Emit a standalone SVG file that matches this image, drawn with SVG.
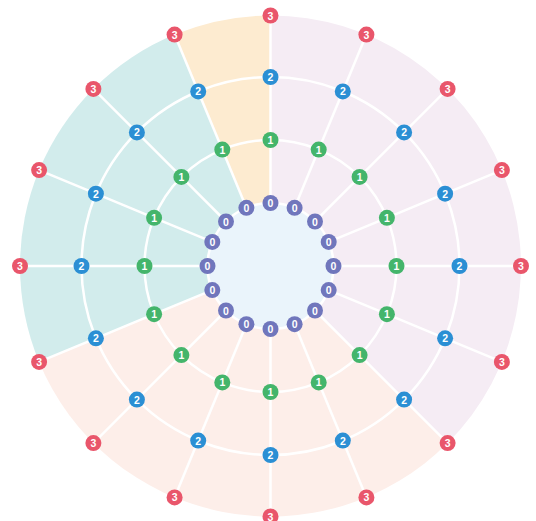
<svg xmlns="http://www.w3.org/2000/svg" width="536" height="521" viewBox="0 0 536 521">
<style>
.grid{fill:none;stroke:#fff;stroke-width:2.5}
.edge{stroke:#fff;stroke-width:2.5}
.n circle{stroke:none}
.n text{font-family:"Liberation Sans",Arial,sans-serif;font-size:10.5px;font-weight:bold;fill:#fff;text-anchor:middle;dominant-baseline:central}
.l0 circle{fill:#7076bc}
.l1 circle{fill:#44b56b}
.l2 circle{fill:#2b8fd4}
.l3 circle{fill:#e9566b}
</style>
<rect width="536" height="521" fill="#fff"/>
<g id="sectors">
<path d="M270.5,266 L270.5,15.5 A250.5,250.5 0 0 1 447.6,443.1 Z" fill="#f5ecf4"/>
<path d="M270.5,266 L447.6,443.1 A250.5,250.5 0 0 1 39.1,361.9 Z" fill="#fdeee9"/>
<path d="M270.5,266 L39.1,361.9 A250.5,250.5 0 0 1 174.6,34.6 Z" fill="#d2ecec"/>
<path d="M270.5,266 L174.6,34.6 A250.5,250.5 0 0 1 270.5,15.5 Z" fill="#fdebd0"/>
</g>
<g id="rings">
<circle class="grid" cx="270.5" cy="266" r="126"/>
<circle class="grid" cx="270.5" cy="266" r="189"/>
</g>
<g id="connectors">
<polyline class="edge" points="270.5,203 270.5,140 270.5,77 270.5,15.5"/>
<polyline class="edge" points="294.6,207.8 318.7,149.6 342.8,91.4 366.4,34.6"/>
<polyline class="edge" points="315.0,221.5 359.6,176.9 404.1,132.4 447.6,88.9"/>
<polyline class="edge" points="328.7,241.9 386.9,217.8 445.1,193.7 501.9,170.1"/>
<polyline class="edge" points="333.5,266 396.5,266 459.5,266 521,266"/>
<polyline class="edge" points="328.7,290.1 386.9,314.2 445.1,338.3 501.9,361.9"/>
<polyline class="edge" points="315.0,310.5 359.6,355.1 404.1,399.6 447.6,443.1"/>
<polyline class="edge" points="294.6,324.2 318.7,382.4 342.8,440.6 366.4,497.4"/>
<polyline class="edge" points="270.5,329 270.5,392 270.5,455 270.5,516.5"/>
<polyline class="edge" points="246.4,324.2 222.3,382.4 198.2,440.6 174.6,497.4"/>
<polyline class="edge" points="226.0,310.5 181.4,355.1 136.9,399.6 93.4,443.1"/>
<polyline class="edge" points="212.3,290.1 154.1,314.2 95.9,338.3 39.1,361.9"/>
<polyline class="edge" points="207.5,266 144.5,266 81.5,266 20,266"/>
<polyline class="edge" points="212.3,241.9 154.1,217.8 95.9,193.7 39.1,170.1"/>
<polyline class="edge" points="226.0,221.5 181.4,176.9 136.9,132.4 93.4,88.9"/>
<polyline class="edge" points="246.4,207.8 222.3,149.6 198.2,91.4 174.6,34.6"/>
</g>
<circle id="core" cx="270.5" cy="266" r="63" fill="#eaf4fb" stroke="#fff" stroke-width="2.5"/>
<g id="nodes">
<g id="n0-0" class="n l0"><circle cx="270.5" cy="203" r="8"/><text x="270.5" y="203">0</text></g>
<g id="n0-1" class="n l0"><circle cx="294.6" cy="207.8" r="8"/><text x="294.6" y="207.8">0</text></g>
<g id="n0-2" class="n l0"><circle cx="315.0" cy="221.5" r="8"/><text x="315.0" y="221.5">0</text></g>
<g id="n0-3" class="n l0"><circle cx="328.7" cy="241.9" r="8"/><text x="328.7" y="241.9">0</text></g>
<g id="n0-4" class="n l0"><circle cx="333.5" cy="266" r="8"/><text x="333.5" y="266">0</text></g>
<g id="n0-5" class="n l0"><circle cx="328.7" cy="290.1" r="8"/><text x="328.7" y="290.1">0</text></g>
<g id="n0-6" class="n l0"><circle cx="315.0" cy="310.5" r="8"/><text x="315.0" y="310.5">0</text></g>
<g id="n0-7" class="n l0"><circle cx="294.6" cy="324.2" r="8"/><text x="294.6" y="324.2">0</text></g>
<g id="n0-8" class="n l0"><circle cx="270.5" cy="329" r="8"/><text x="270.5" y="329">0</text></g>
<g id="n0-9" class="n l0"><circle cx="246.4" cy="324.2" r="8"/><text x="246.4" y="324.2">0</text></g>
<g id="n0-10" class="n l0"><circle cx="226.0" cy="310.5" r="8"/><text x="226.0" y="310.5">0</text></g>
<g id="n0-11" class="n l0"><circle cx="212.3" cy="290.1" r="8"/><text x="212.3" y="290.1">0</text></g>
<g id="n0-12" class="n l0"><circle cx="207.5" cy="266" r="8"/><text x="207.5" y="266">0</text></g>
<g id="n0-13" class="n l0"><circle cx="212.3" cy="241.9" r="8"/><text x="212.3" y="241.9">0</text></g>
<g id="n0-14" class="n l0"><circle cx="226.0" cy="221.5" r="8"/><text x="226.0" y="221.5">0</text></g>
<g id="n0-15" class="n l0"><circle cx="246.4" cy="207.8" r="8"/><text x="246.4" y="207.8">0</text></g>

<g id="n1-0" class="n l1"><circle cx="270.5" cy="140" r="8"/><text x="270.5" y="140">1</text></g>
<g id="n1-1" class="n l1"><circle cx="318.7" cy="149.6" r="8"/><text x="318.7" y="149.6">1</text></g>
<g id="n1-2" class="n l1"><circle cx="359.6" cy="176.9" r="8"/><text x="359.6" y="176.9">1</text></g>
<g id="n1-3" class="n l1"><circle cx="386.9" cy="217.8" r="8"/><text x="386.9" y="217.8">1</text></g>
<g id="n1-4" class="n l1"><circle cx="396.5" cy="266" r="8"/><text x="396.5" y="266">1</text></g>
<g id="n1-5" class="n l1"><circle cx="386.9" cy="314.2" r="8"/><text x="386.9" y="314.2">1</text></g>
<g id="n1-6" class="n l1"><circle cx="359.6" cy="355.1" r="8"/><text x="359.6" y="355.1">1</text></g>
<g id="n1-7" class="n l1"><circle cx="318.7" cy="382.4" r="8"/><text x="318.7" y="382.4">1</text></g>
<g id="n1-8" class="n l1"><circle cx="270.5" cy="392" r="8"/><text x="270.5" y="392">1</text></g>
<g id="n1-9" class="n l1"><circle cx="222.3" cy="382.4" r="8"/><text x="222.3" y="382.4">1</text></g>
<g id="n1-10" class="n l1"><circle cx="181.4" cy="355.1" r="8"/><text x="181.4" y="355.1">1</text></g>
<g id="n1-11" class="n l1"><circle cx="154.1" cy="314.2" r="8"/><text x="154.1" y="314.2">1</text></g>
<g id="n1-12" class="n l1"><circle cx="144.5" cy="266" r="8"/><text x="144.5" y="266">1</text></g>
<g id="n1-13" class="n l1"><circle cx="154.1" cy="217.8" r="8"/><text x="154.1" y="217.8">1</text></g>
<g id="n1-14" class="n l1"><circle cx="181.4" cy="176.9" r="8"/><text x="181.4" y="176.9">1</text></g>
<g id="n1-15" class="n l1"><circle cx="222.3" cy="149.6" r="8"/><text x="222.3" y="149.6">1</text></g>

<g id="n2-0" class="n l2"><circle cx="270.5" cy="77" r="8"/><text x="270.5" y="77">2</text></g>
<g id="n2-1" class="n l2"><circle cx="342.8" cy="91.4" r="8"/><text x="342.8" y="91.4">2</text></g>
<g id="n2-2" class="n l2"><circle cx="404.1" cy="132.4" r="8"/><text x="404.1" y="132.4">2</text></g>
<g id="n2-3" class="n l2"><circle cx="445.1" cy="193.7" r="8"/><text x="445.1" y="193.7">2</text></g>
<g id="n2-4" class="n l2"><circle cx="459.5" cy="266" r="8"/><text x="459.5" y="266">2</text></g>
<g id="n2-5" class="n l2"><circle cx="445.1" cy="338.3" r="8"/><text x="445.1" y="338.3">2</text></g>
<g id="n2-6" class="n l2"><circle cx="404.1" cy="399.6" r="8"/><text x="404.1" y="399.6">2</text></g>
<g id="n2-7" class="n l2"><circle cx="342.8" cy="440.6" r="8"/><text x="342.8" y="440.6">2</text></g>
<g id="n2-8" class="n l2"><circle cx="270.5" cy="455" r="8"/><text x="270.5" y="455">2</text></g>
<g id="n2-9" class="n l2"><circle cx="198.2" cy="440.6" r="8"/><text x="198.2" y="440.6">2</text></g>
<g id="n2-10" class="n l2"><circle cx="136.9" cy="399.6" r="8"/><text x="136.9" y="399.6">2</text></g>
<g id="n2-11" class="n l2"><circle cx="95.9" cy="338.3" r="8"/><text x="95.9" y="338.3">2</text></g>
<g id="n2-12" class="n l2"><circle cx="81.5" cy="266" r="8"/><text x="81.5" y="266">2</text></g>
<g id="n2-13" class="n l2"><circle cx="95.9" cy="193.7" r="8"/><text x="95.9" y="193.7">2</text></g>
<g id="n2-14" class="n l2"><circle cx="136.9" cy="132.4" r="8"/><text x="136.9" y="132.4">2</text></g>
<g id="n2-15" class="n l2"><circle cx="198.2" cy="91.4" r="8"/><text x="198.2" y="91.4">2</text></g>

<g id="n3-0" class="n l3"><circle cx="270.5" cy="15.5" r="8"/><text x="270.5" y="15.5">3</text></g>
<g id="n3-1" class="n l3"><circle cx="366.4" cy="34.6" r="8"/><text x="366.4" y="34.6">3</text></g>
<g id="n3-2" class="n l3"><circle cx="447.6" cy="88.9" r="8"/><text x="447.6" y="88.9">3</text></g>
<g id="n3-3" class="n l3"><circle cx="501.9" cy="170.1" r="8"/><text x="501.9" y="170.1">3</text></g>
<g id="n3-4" class="n l3"><circle cx="521" cy="266" r="8"/><text x="521" y="266">3</text></g>
<g id="n3-5" class="n l3"><circle cx="501.9" cy="361.9" r="8"/><text x="501.9" y="361.9">3</text></g>
<g id="n3-6" class="n l3"><circle cx="447.6" cy="443.1" r="8"/><text x="447.6" y="443.1">3</text></g>
<g id="n3-7" class="n l3"><circle cx="366.4" cy="497.4" r="8"/><text x="366.4" y="497.4">3</text></g>
<g id="n3-8" class="n l3"><circle cx="270.5" cy="516.5" r="8"/><text x="270.5" y="516.5">3</text></g>
<g id="n3-9" class="n l3"><circle cx="174.6" cy="497.4" r="8"/><text x="174.6" y="497.4">3</text></g>
<g id="n3-10" class="n l3"><circle cx="93.4" cy="443.1" r="8"/><text x="93.4" y="443.1">3</text></g>
<g id="n3-11" class="n l3"><circle cx="39.1" cy="361.9" r="8"/><text x="39.1" y="361.9">3</text></g>
<g id="n3-12" class="n l3"><circle cx="20" cy="266" r="8"/><text x="20" y="266">3</text></g>
<g id="n3-13" class="n l3"><circle cx="39.1" cy="170.1" r="8"/><text x="39.1" y="170.1">3</text></g>
<g id="n3-14" class="n l3"><circle cx="93.4" cy="88.9" r="8"/><text x="93.4" y="88.9">3</text></g>
<g id="n3-15" class="n l3"><circle cx="174.6" cy="34.6" r="8"/><text x="174.6" y="34.6">3</text></g>
</g>
</svg>
